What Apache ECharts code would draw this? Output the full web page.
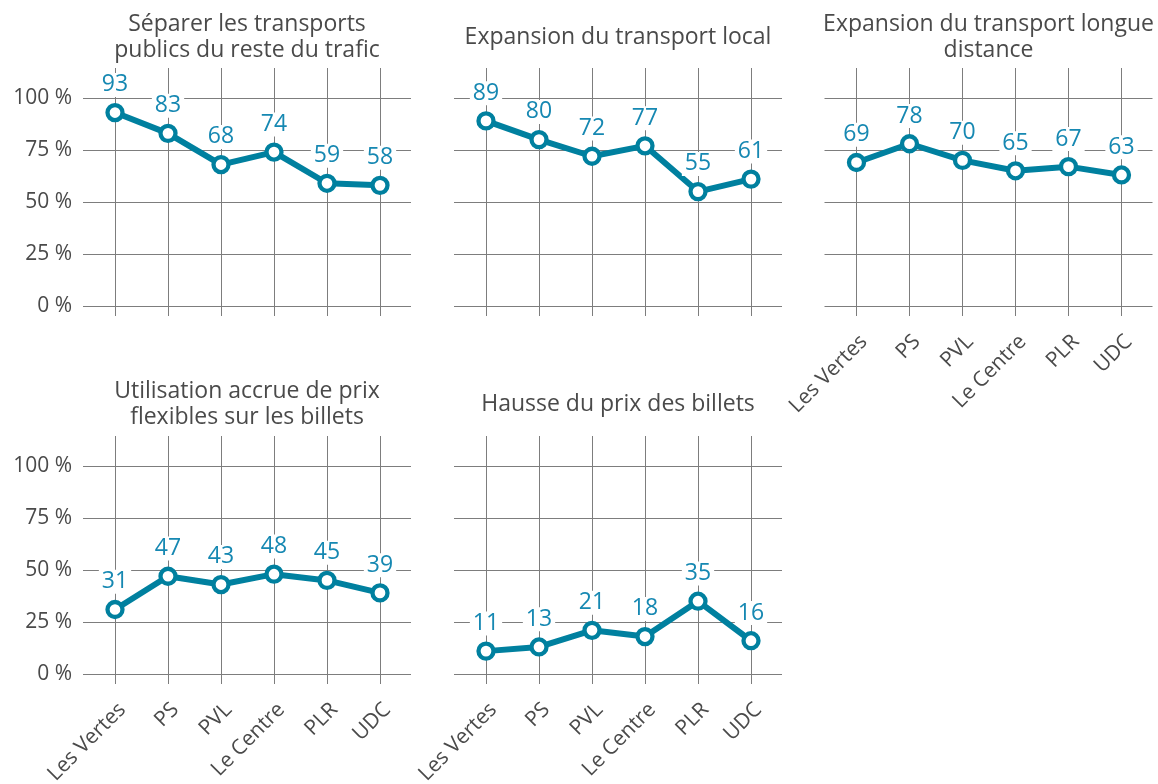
<!DOCTYPE html>
<html>
<head>
<meta charset="utf-8">
<script src="https://cdn.jsdelivr.net/npm/echarts@6/dist/echarts.min.js"></script>
<style>
  html, body { margin: 0; padding: 0; background: #fff; }
  #chart { width: 1158px; height: 784px; }
</style>
</head>
<body>
<div id="chart"></div>
<script>
const parties = ["Les Vertes", "PS", "PVL", "Le Centre", "PLR", "UDC"];
const titles = [
  "Séparer les transports\npublics du reste du trafic",
  "Expansion du transport local",
  "Expansion du transport longue\ndistance",
  "Utilisation accrue de prix\nflexibles sur les billets",
  "Hausse du prix des billets"
];
const separer = [93, 83, 68, 74, 59, 58];
const local = [89, 80, 72, 77, 55, 61];
const longue = [69, 78, 70, 65, 67, 63];
const flexibles = [31, 47, 43, 48, 45, 39];
const hausse = [11, 13, 21, 18, 35, 16];

const panelData = [separer, local, longue, flexibles, hausse];

const FONT = "Open Sans";
const LINE = "#00809f";
const LABEL = "#1688b2";
const GRIDC = "#7d7d7d";
const TEXT = "#4a4a4a";

// panel layout: [col, row, showYLabels, showXLabels]
const panels = [
  [0, 0, true, false],
  [1, 0, false, false],
  [2, 0, false, true],
  [0, 1, true, true],
  [1, 1, false, true]
];

const colLeft = [83, 454, 824.5];
const rowTop = [98, 466];
const gridW = 328, gridH = 208;
const bandLeftOff = 32, bandW = 265;
const extTop = 30, extBottom = 10;
const yMinExt = -extBottom / (gridH / 100);
const yMaxExt = 100 + extTop / (gridH / 100);

const grid = [], xAxis = [], yAxis = [], series = [], graphic = [];

panels.forEach((p, i) => {
  const [c, r, showY, showX] = p;
  const left = colLeft[c], top = rowTop[r];
  // grid A: horizontal lines + y labels
  grid.push({ left: left, top: top, width: gridW, height: gridH, outerBoundsMode: "none" });
  xAxis.push({ gridIndex: 2 * i, type: "value", show: false, min: 0, max: 1 });
  yAxis.push({
    gridIndex: 2 * i, type: "value", min: 0, max: 100, interval: 25,
    axisLine: { show: false }, axisTick: { show: false },
    axisLabel: {
      show: showY, formatter: "{value} %", color: TEXT, fontSize: 21,
      fontFamily: FONT, margin: 11
    },
    splitLine: { show: true, lineStyle: { color: GRIDC, width: 1 } }
  });
  // grid B: vertical lines + data
  grid.push({
    left: left + bandLeftOff, top: top - extTop, width: bandW,
    height: gridH + extTop + extBottom, outerBoundsMode: "none"
  });
  xAxis.push({
    gridIndex: 2 * i + 1, type: "category", data: parties, boundaryGap: false,
    axisLine: { show: false }, axisTick: { show: false },
    axisLabel: {
      show: showX, rotate: 45, color: TEXT, fontSize: 21, fontFamily: FONT,
      margin: 15, interval: 0, verticalAlign: "top"
    },
    splitLine: { show: true, interval: 0, lineStyle: { color: GRIDC, width: 1 } }
  });
  yAxis.push({
    gridIndex: 2 * i + 1, type: "value", min: yMinExt, max: yMaxExt, show: false,
    splitLine: { show: false }
  });
  series.push({
    type: "line", xAxisIndex: 2 * i + 1, yAxisIndex: 2 * i + 1,
    data: panelData[i],
    lineStyle: { color: LINE, width: 6 },
    symbol: "circle", symbolSize: 15,
    itemStyle: { color: "#fff", borderColor: LINE, borderWidth: 4.3 },
    label: {
      show: true, position: "top", distance: 6, color: LABEL, fontSize: 23,
      fontFamily: FONT, backgroundColor: "#fff", padding: [0, 3], lineHeight: 24
    },
    emphasis: { disabled: true },
    animation: false
  });
  graphic.push({
    type: "text",
    x: left + gridW / 2,
    y: r === 0 ? 37 : 404,
    style: {
      text: titles[i], fill: TEXT, font: "23px '" + FONT + "'",
      textAlign: "center", textVerticalAlign: "middle", lineHeight: 26
    }
  });
});

const chart = echarts.init(document.getElementById("chart"));
chart.setOption({
  animation: false,
  grid: grid,
  xAxis: xAxis,
  yAxis: yAxis,
  series: series,
  graphic: graphic
});
</script>
</body>
</html>
